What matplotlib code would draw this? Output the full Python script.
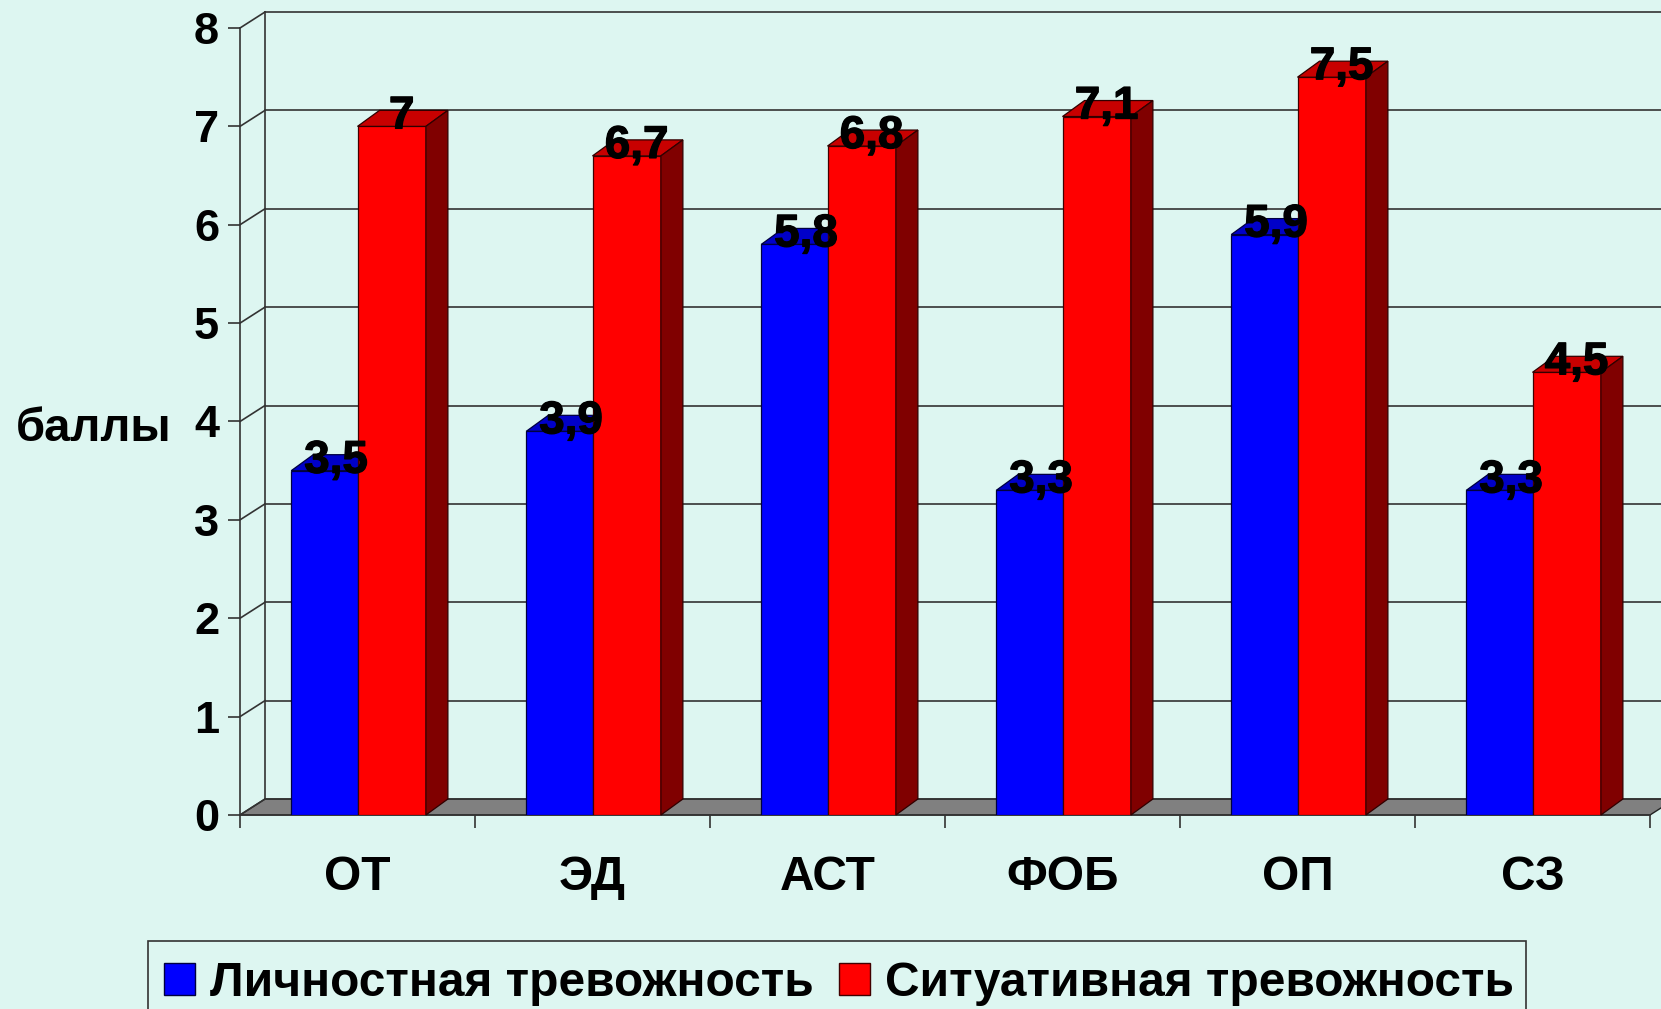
import matplotlib
matplotlib.use('Agg')
import matplotlib.pyplot as plt
import matplotlib.patheffects as pe
from matplotlib.patches import Polygon, Patch, Rectangle

plt.rcParams['font.family'] = ['Liberation Sans', 'DejaVu Sans']
plt.rcParams['font.weight'] = 'bold'

categories = ['ОТ', 'ЭД', 'АСТ', 'ФОБ', 'ОП', 'СЗ']
personal = [3.5, 3.9, 5.8, 3.3, 5.9, 3.3]
situational = [7, 6.7, 6.8, 7.1, 7.5, 4.5]
value_labels_p = ['3,5', '3,9', '5,8', '3,3', '5,9', '3,3']
value_labels_s = ['7', '6,7', '6,8', '7,1', '7,5', '4,5']
yticks = [0, 1, 2, 3, 4, 5, 6, 7, 8]

W, H = 1661, 1009
BG = '#DDF6F1'
LINE = '#333333'
# 3d offset of the back wall, in data units
DX = 25 / 235.0
DY = 16 / 98.4
BAR_DX = 22 / 235.0
BLUE_W = 0.282
RED_W = 0.291
bold = [pe.withStroke(linewidth=0.9, foreground='black')]

fig = plt.figure(figsize=(W / 100, H / 100), dpi=100, facecolor=BG)
ax = fig.add_axes([240 / W, 1 - 815 / H, 1410 / W, 787 / H])
ax.set_facecolor('none')
ax.set_xlim(0, 6)
ax.set_ylim(0, 8)
for s in ['top', 'right']:
    ax.spines[s].set_visible(False)
for s in ['left', 'bottom']:
    ax.spines[s].set_color(LINE)
    ax.spines[s].set_linewidth(1.2)


def face(pts, color, edge, z):
    ax.add_patch(Polygon(pts, closed=True, facecolor=color, edgecolor=edge,
                         linewidth=0.9, zorder=z, clip_on=False))


# floor
ax.add_patch(Polygon([(0, 0), (DX, DY), (6 + DX, DY), (6, 0)], closed=True, facecolor='#808080',
                     edgecolor='#222222', linewidth=1.0, zorder=1, clip_on=False))
# back wall grid, runs off the right side of the picture
for v in yticks:
    ax.plot([0, DX], [v, v + DY], color=LINE, lw=1.2, zorder=1, clip_on=False)
    ax.plot([DX, 6.1], [v + DY, v + DY], color=LINE, lw=1.2, zorder=1, clip_on=False)
ax.plot([DX, DX], [DY, 8 + DY], color=LINE, lw=1.2, zorder=1, clip_on=False)

# bars with top and side faces
for i in range(len(categories)):
    c = i + 0.5
    x0 = c - BLUE_W
    x1 = c
    x2 = c + RED_W
    vp = personal[i]
    vs = situational[i]
    ax.bar(x0, vp, BLUE_W, align='edge', color='#0000FF', edgecolor='#000040', linewidth=0.9, zorder=3)
    face([(x0, vp), (x0 + BAR_DX, vp + DY), (x1 + BAR_DX, vp + DY), (x1, vp)], '#0000C8', '#000040', 2.5)
    ax.bar(x1, vs, RED_W, align='edge', color='#FF0000', edgecolor='#400000', linewidth=0.9, zorder=4)
    face([(x1, vs), (x1 + BAR_DX, vs + DY), (x2 + BAR_DX, vs + DY), (x2, vs)], '#C80000', '#300000', 4)
    face([(x2, 0), (x2 + BAR_DX, DY), (x2 + BAR_DX, vs + DY), (x2, vs)], '#800000', '#300000', 4)
    ax.text((x0 + x1) / 2 + DX * 0.47, vp + DY / 2 + 0.02, value_labels_p[i], ha='center', va='center',
            fontsize=33, color='black', zorder=6, path_effects=bold)
    ax.text((x1 + x2) / 2 + DX * 0.40, vs + DY / 2 + 0.02, value_labels_s[i], ha='center', va='center',
            fontsize=33, color='black', zorder=6, path_effects=bold)

ax.set_yticks(yticks)
ax.set_yticklabels([str(v) for v in yticks], fontsize=32.5)
ax.tick_params(axis='y', length=9, width=1.2, color=LINE, pad=6)
ax.set_xticks(range(7))
ax.set_xticklabels([])
ax.tick_params(axis='x', which='major', length=9, width=1.2, color=LINE)
ax.set_xticks([i + 0.5 for i in range(6)], minor=True)
ax.set_xticklabels(categories, minor=True, fontsize=34.5)
ax.tick_params(axis='x', which='minor', length=0, pad=28.5)

fig.text(93.5 / W, 1 - 429 / H, 'баллы', ha='center', va='center', fontsize=34)

# legend frame goes off the bottom of the picture
fig.add_artist(Rectangle((148 / W, 1 - 1020 / H), 1378 / W, 79 / H, transform=fig.transFigure,
                         facecolor=BG, edgecolor=LINE, linewidth=1.2, zorder=1))
handles = [Patch(facecolor='#0000FF', edgecolor='#000040', label='Личностная тревожность'),
           Patch(facecolor='#FF0000', edgecolor='#400000', label='Ситуативная тревожность')]
leg = fig.legend(handles=handles, ncol=2, loc='upper left', bbox_to_anchor=(164 / W, 1 - 961 / H),
                 bbox_transform=fig.transFigure, fontsize=34.5, frameon=False, borderaxespad=0, borderpad=0,
                 handlelength=0.65, handleheight=0.67, handletextpad=0.3, columnspacing=0.54)
leg.set_zorder(2)

fig.savefig('out.png', dpi=100, facecolor=BG)
